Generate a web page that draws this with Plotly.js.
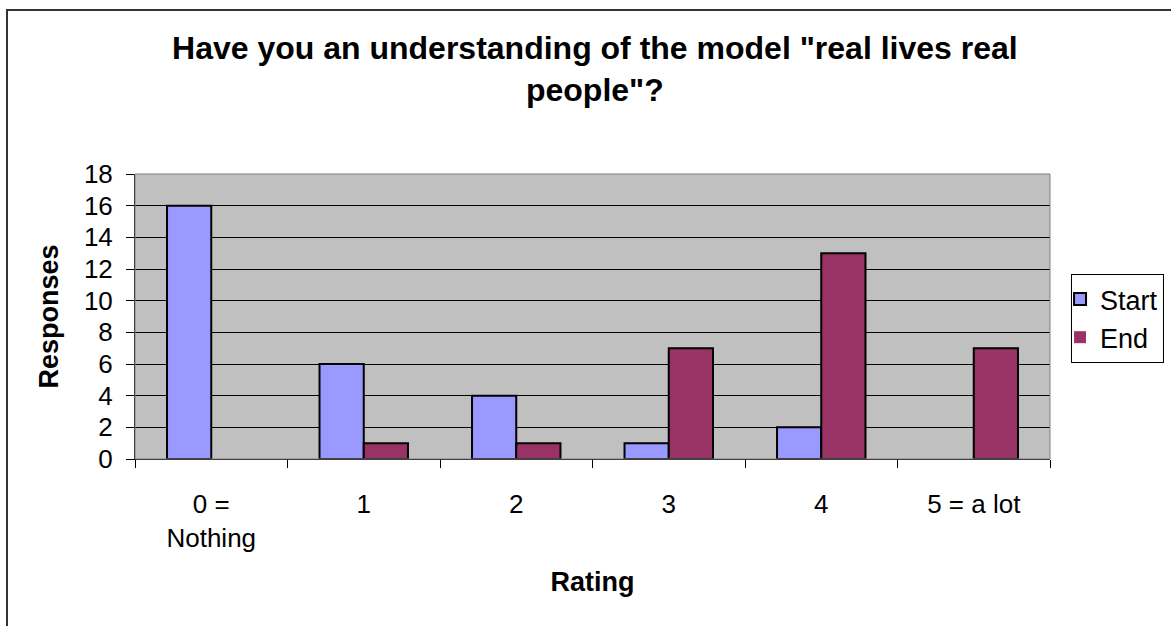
<!DOCTYPE html>
<html>
<head>
<meta charset="utf-8">
<script src="https://cdn.plot.ly/plotly-3.0.1.min.js"></script>
<style>
  html, body { margin: 0; padding: 0; background: #fff; }
  #wrap { position: relative; width: 1171px; height: 626px; overflow: hidden; }
  #chart { position: absolute; left: 0; top: 0; width: 1171px; height: 626px; }
  #frame { position: absolute; left: 6px; top: 9px; width: 1200px; height: 700px;
           border-left: 2px solid #333; border-top: 2px solid #333; pointer-events: none; }
</style>
</head>
<body>
<div id="wrap">
  <div id="chart"></div>
  <div id="frame"></div>
</div>
<script>
const categories = ["0 =<br>Nothing", "1", "2", "3", "4", "5 = a lot"];
const startValues = [16, 6, 4, 1, 2, 0];
const endValues = [0, 1, 1, 7, 13, 7];
const seriesNames = ["Start", "End"];
const yTicks = [0, 2, 4, 6, 8, 10, 12, 14, 16, 18];

const font = "Liberation Sans, Arial, sans-serif";
const outline = vals => vals.map(v => (v ? 2 : 0));

const traces = [
  { type: "bar", name: seriesNames[0], x: categories, y: startValues,
    marker: { color: "#9999FF", line: { color: "#000", width: outline(startValues) } } },
  { type: "bar", name: seriesNames[1], x: categories, y: endValues,
    marker: { color: "#993366", line: { color: "#000", width: outline(endValues) } } }
];

const layout = {
  width: 1171, height: 626,
  margin: { l: 135, r: 121, t: 174, b: 167, pad: 0, autoexpand: false },
  paper_bgcolor: "#fff",
  plot_bgcolor: "#C0C0C0",
  font: { family: font, size: 26, color: "#000" },
  title: {
    text: "<b>Have you an understanding of the model \"real lives real<br>people\"?</b>",
    font: { family: font, size: 32, color: "#000" },
    x: 0.508, xanchor: "center", y: 0.905, yanchor: "middle", yref: "container"
  },
  barmode: "group",
  bargap: 0.42,
  bargroupgap: 0,
  xaxis: {
    type: "category",
    showline: true, linecolor: "#000", linewidth: 1,
    ticks: "outside", ticklen: 8, tickcolor: "#000", tickson: "boundaries",
    ticklabelstandoff: 22,
    tickfont: { size: 26 },
    showgrid: false,
    title: { text: "<b>Rating</b>", font: { size: 27 }, standoff: 20 }
  },
  yaxis: {
    range: [0, 18], tickvals: yTicks, ticktext: yTicks.map(String),
    showline: true, linecolor: "#000", linewidth: 1,
    ticks: "outside", ticklen: 8, tickcolor: "#000",
    ticklabelstandoff: 8,
    showgrid: true, gridcolor: "#000", gridwidth: 1,
    zeroline: false,
    tickfont: { size: 26 },
    title: { text: "<b>Responses</b>", font: { size: 27 }, standoff: 17 }
  },
  showlegend: true,
  legend: {
    x: 1.023, xanchor: "left", y: 0.649, yanchor: "top",
    bgcolor: "#fff", bordercolor: "#000", borderwidth: 1,
    font: { size: 27 }, itemwidth: 30, tracegroupgap: 0,
    indentation: -12,
    traceorder: "normal"
  },
  shapes: [
    { type: "rect", xref: "paper", yref: "paper", x0: 0, x1: 1, y0: 0, y1: 1,
      line: { color: "#808080", width: 1 }, fillcolor: "rgba(0,0,0,0)", layer: "above" }
  ]
};

Plotly.newPlot("chart", traces, layout, { displayModeBar: false, staticPlot: true });
</script>
</body>
</html>
